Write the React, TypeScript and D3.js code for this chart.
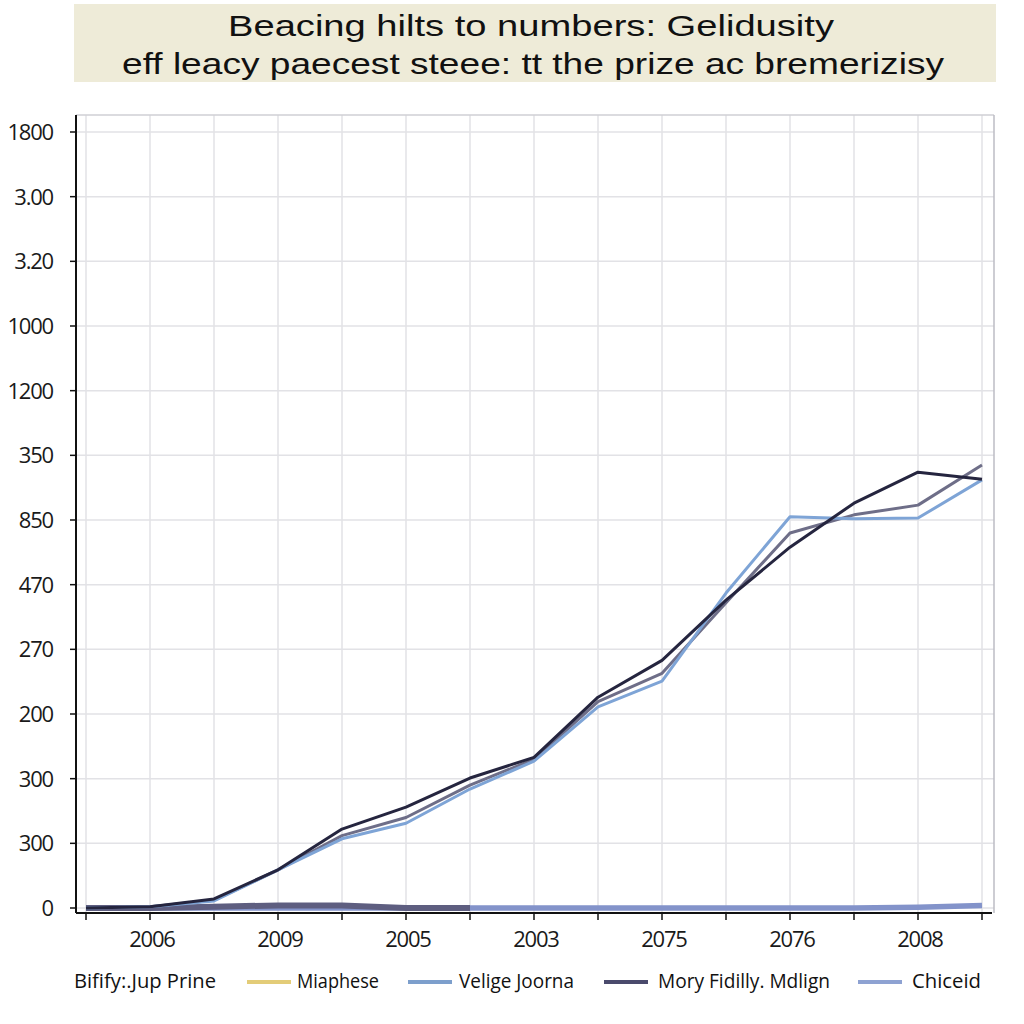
import React from "react";
import * as d3 from "d3";

const titleLines = [
  "Beacing hilts to numbers:  Gelidusity",
  "eff leacy paecest steee: tt the prize ac bremerizisy",
];

// y tick labels, bottom to top (one per gridline)
const yTickLabels = ["0", "300", "300", "200", "270", "470", "850", "350", "1200", "1000", "3.20", "3.00", "1800"];

// x positions: 15 points, labels on every other one
const xIndex = d3.range(15);
const xTickLabels = ["", "2006", "", "2009", "", "2005", "", "2003", "", "2075", "", "2076", "", "2008", ""];

// series values in gridline units
const moryValues = [0, 0.02, 0.14, 0.59, 1.22, 1.56, 2.01, 2.33, 3.26, 3.83, 4.76, 5.58, 6.26, 6.74, 6.63];
const veligeValues = [0, 0.02, 0.11, 0.59, 1.07, 1.31, 1.84, 2.27, 3.11, 3.51, 4.87, 6.05, 6.02, 6.03, 6.62];
const grayValues = [0, 0.02, 0.12, 0.59, 1.12, 1.4, 1.9, 2.3, 3.19, 3.63, 4.72, 5.8, 6.08, 6.23, 6.85];
const chiceidValues = [0, 0, 0, 0, 0, 0, 0, 0, 0, 0, 0, 0, 0, 0.01, 0.04];
const flatPurpleValues: (number | null)[] = [0, 0, 0.02, 0.04, 0.04, 0.0, 0.0, null, null, null, null, null, null, null, null];

const legendTitle = "Bifify:.Jup Prine";
const legendNames = ["Miaphese", "Velige Joorna", "Mory Fidilly. Mdlign", "Chiceid"];
const legendColors = ["#e3cc78", "#7d9fcc", "#4a4a6c", "#8ea2d2"];

export default function App() {
  const left = 76, right = 994, top = 115, bottom = 913;
  const x = d3.scaleLinear().domain([0, 14]).range([86, 982]);
  const y = d3.scaleLinear().domain([0, 12]).range([908, 132]);

  const line = d3
    .line<number | null>()
    .defined((d) => d !== null)
    .x((_, i) => x(i))
    .y((d) => y(d as number));

  const font = "'Open Sans', 'DejaVu Sans', sans-serif";
  const titleFont = "'Liberation Sans', Arial, sans-serif";

  const legendLayout = [
    { sx: 247, tx: 297, tw: 82 },
    { sx: 408, tx: 459, tw: 115 },
    { sx: 604, tx: 658, tw: 172 },
    { sx: 858, tx: 912, tw: 69 },
  ];

  return (
    <svg
      width={1024}
      height={1024}
      style={{ position: "absolute", left: 0, top: 0, background: "#ffffff" }}
    >
      <rect x={0} y={0} width={1024} height={1024} fill="#ffffff" />
      {/* title */}
      <rect x={74} y={4} width={922} height={78} fill="#eeebd8" />
      <text x={531} y={36} textAnchor="middle" fontFamily={titleFont} fontSize={30} fill="#111"
        textLength={606} lengthAdjust="spacingAndGlyphs">
        {titleLines[0]}
      </text>
      <text x={533} y={74} textAnchor="middle" fontFamily={titleFont} fontSize={30} fill="#111"
        textLength={822} lengthAdjust="spacingAndGlyphs">
        {titleLines[1]}
      </text>

      {/* gridlines */}
      {yTickLabels.map((_, i) => (
        <line key={"hg" + i} x1={left} x2={right} y1={y(i)} y2={y(i)} stroke="#e2e2e6" strokeWidth={1.5} />
      ))}
      {xIndex.map((i) => (
        <line key={"vg" + i} x1={x(i)} x2={x(i)} y1={top} y2={bottom} stroke="#e2e2e6" strokeWidth={1.5} />
      ))}
      <line x1={left} x2={right} y1={top} y2={top} stroke="#cfcfd4" strokeWidth={1.5} />
      <line x1={right} x2={right} y1={top} y2={bottom} stroke="#bdbdc4" strokeWidth={1.5} />

      {/* series */}
      <path d={line(chiceidValues) || ""} fill="none" stroke="#8393ca" strokeWidth={5.5} strokeLinejoin="round" />
      <path d={line(flatPurpleValues) || ""} fill="none" stroke="#5e5e80" strokeWidth={6} strokeLinejoin="round" />
      <path d={line(grayValues) || ""} fill="none" stroke="#6e6e88" strokeWidth={3} strokeLinejoin="round" />
      <path d={line(veligeValues) || ""} fill="none" stroke="#7ea4d6" strokeWidth={3} strokeLinejoin="round" />
      <path d={line(moryValues) || ""} fill="none" stroke="#25253f" strokeWidth={3} strokeLinejoin="round" />

      {/* axes */}
      <line x1={left} x2={left} y1={top} y2={bottom} stroke="#111" strokeWidth={2} />
      <line x1={left} x2={right - 2} y1={bottom} y2={bottom} stroke="#111" strokeWidth={2} />
      {yTickLabels.map((lab, i) => (
        <g key={"yt" + i}>
          <line x1={70} x2={left} y1={y(i)} y2={y(i)} stroke="#111" strokeWidth={1.5} />
          <text x={53} y={y(i) + 8} textAnchor="end" fontFamily={font} fontSize={22} fill="#1a1a1a"
            letterSpacing={-1.2}>
            {lab}
          </text>
        </g>
      ))}
      {xIndex.map((i) => (
        <g key={"xt" + i}>
          <line x1={x(i)} x2={x(i)} y1={bottom} y2={bottom + 7} stroke="#111" strokeWidth={1.5} />
          {xTickLabels[i] && (
            <text x={x(i) + 2} y={947} textAnchor="middle" fontFamily={font} fontSize={22} fill="#1a1a1a"
              letterSpacing={-1.2}>
              {xTickLabels[i]}
            </text>
          )}
        </g>
      ))}

      {/* legend */}
      <text x={74} y={988} fontFamily={font} fontSize={20} fill="#111" textLength={142} lengthAdjust="spacingAndGlyphs">
        {legendTitle}
      </text>
      {legendNames.map((name, i) => (
        <g key={"lg" + i}>
          <line x1={legendLayout[i].sx} x2={legendLayout[i].sx + 44} y1={982} y2={982}
            stroke={legendColors[i]} strokeWidth={4} />
          <text x={legendLayout[i].tx} y={988} fontFamily={font} fontSize={20} fill="#111"
            textLength={legendLayout[i].tw} lengthAdjust="spacingAndGlyphs">
            {name}
          </text>
        </g>
      ))}
    </svg>
  );
}
